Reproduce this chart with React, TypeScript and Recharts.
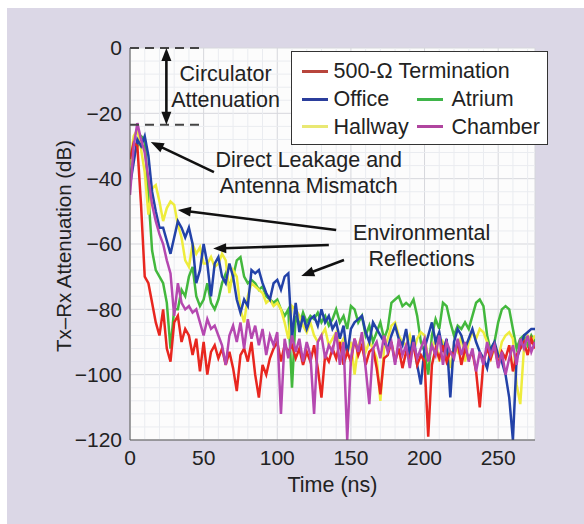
import React from 'react'
import {
  CartesianGrid,
  Legend,
  Line,
  LineChart,
  ReferenceDot,
  ReferenceLine,
  XAxis,
  YAxis,
} from 'recharts'

// Tx–Rx attenuation vs. time, five environments, sampled every 2.5 ns (0–275 ns).
const time = Array.from({ length: 111 }, (_, i) => i * 2.5)

const termination = [
  -34, -29, -30, -48, -70, -72, -78, -84, -88, -80,
  -92, -96, -84, -82, -90, -86, -88, -94, -89, -99,
  -90, -100, -93, -91, -95, -92, -97, -93, -98, -105,
  -94, -92, -96, -90, -100, -107, -97, -100, -95, -92,
  -90, -96, -91, -93, -91, -95, -92, -97, -93, -96,
  -91, -98, -107, -94, -96, -92, -95, -90, -97, -93,
  -96, -89, -94, -91, -97, -93, -92, -98, -106, -95,
  -94, -90, -96, -92, -98, -93, -95, -91, -97, -94,
  -96, -119, -97, -92, -95, -91, -96, -93, -94, -90,
  -97, -92, -95, -93, -99, -110, -96, -92, -95, -91,
  -97, -93, -95, -91, -99, -94, -92, -90, -94, -89,
  -92,
]

const office = [
  -42, -35, -28, -30, -27, -33, -44, -50, -55, -55,
  -59, -63, -58, -53, -55, -58, -55, -60, -72, -68,
  -60, -66, -76, -66, -64, -70, -72, -66, -70, -77,
  -81, -77, -79, -68, -69, -68, -72, -75, -77, -72,
  -71, -74, -70, -69, -89, -78, -87, -82, -86, -83,
  -82, -85, -80, -84, -82, -86, -84, -89, -85, -94,
  -86, -84, -83, -82, -87, -90, -84, -86, -88, -90,
  -92, -88, -85, -89, -91, -86, -94, -88, -97, -103,
  -92, -88, -84, -90, -87, -93, -89, -107, -90, -86,
  -88, -92, -89, -86, -90, -93, -95, -98, -92, -90,
  -94, -96, -100, -107, -120, -95, -92, -88, -87, -86,
  -86,
]

const atrium = [
  -40, -33, -30, -27, -28, -45, -62, -68, -70, -72,
  -78, -92, -80, -80, -74, -76, -70, -67, -76, -79,
  -77, -72, -78, -80, -77, -72, -69, -73, -70, -65,
  -64, -70, -72, -71, -72, -74, -73, -76, -77, -78,
  -77, -80, -82, -80, -104, -82, -85, -81, -84, -82,
  -83, -81, -84, -82, -85, -83, -80, -84, -82, -86,
  -79, -80, -84, -82, -88, -85, -90, -87, -84, -89,
  -86, -78, -77, -76, -79, -78, -79, -77, -82, -90,
  -93, -100, -88, -83, -86, -78, -79, -84, -88, -85,
  -86, -84, -86, -82, -78, -77, -79, -88, -93, -90,
  -84, -80, -79, -80, -86, -92, -89, -88, -91, -88,
  -90,
]

const hallway = [
  -36, -27, -25, -31, -38, -51, -43, -42, -47, -53,
  -49, -47, -48, -54, -58, -65, -67, -60, -63, -61,
  -66, -66, -64, -67, -66, -63, -65, -75, -68, -70,
  -80, -84, -76, -72, -73, -74, -75, -78, -77, -79,
  -78, -80, -84, -89, -79, -80, -82, -85, -87, -84,
  -88, -90, -88, -86, -91, -89, -87, -91, -89, -93,
  -90, -100, -91, -88, -93, -90, -92, -95, -108, -92,
  -89, -85, -84, -88, -90, -91, -88, -93, -89, -87,
  -88, -95, -92, -89, -96, -90, -92, -98, -91, -93,
  -88, -96, -90, -87, -89, -86, -87, -90, -95, -92,
  -95, -90, -88, -87, -89, -103, -109, -92, -88, -90,
  -88,
]

const chamber = [
  -45, -30, -23, -28, -32, -40, -48, -53, -57, -60,
  -65, -69, -82, -72, -78, -80, -79, -81, -80, -84,
  -88, -83, -86, -85, -88, -91, -97, -88, -85, -90,
  -84, -92, -83, -89, -85, -91, -86, -94, -88, -91,
  -87, -112, -89, -95, -88, -93, -89, -96, -90, -94,
  -112, -90, -88, -95, -91, -93, -87, -97, -90, -120,
  -95, -89, -93, -87, -98, -109, -92, -90, -95, -88,
  -93, -90, -97, -89, -94, -91, -98, -90, -95, -92,
  -89, -96, -91, -94, -88, -97, -90, -93, -95, -89,
  -94, -90, -96, -92, -99, -93, -97, -90, -94, -91,
  -98, -93, -100, -95, -91, -97, -89, -92, -88, -93,
  -90,
]

const xTicks = [0, 50, 100, 150, 200, 250]
const yTicks = [-120, -100, -80, -60, -40, -20, 0]
const xMinor = [10, 20, 30, 40, 60, 70, 80, 90, 110, 120, 130, 140, 160, 170, 180, 190, 210, 220, 230, 240, 260, 270]
const yMinor = [-116, -112, -108, -104, -96, -92, -88, -84, -76, -72, -68, -64, -56, -52, -48, -44, -36, -32, -28, -24, -16, -12, -8, -4]

// draw order: green, yellow, blue, red, magenta
const series = [
  { key: 'atrium', name: 'Atrium', color: '#43b83d', swatch: '#3fb54a' },
  { key: 'hallway', name: 'Hallway', color: '#eeec3c', swatch: '#e9e873' },
  { key: 'office', name: 'Office', color: '#2342a8', swatch: '#2b3e9c' },
  { key: 'termination', name: '500-\u03A9 Termination', color: '#e8261f', swatch: '#b8453c' },
  { key: 'chamber', name: 'Chamber', color: '#b548b0', swatch: '#b0459f' },
]

const data = time.map((t, i) => ({
  t,
  termination: termination[i],
  office: office[i],
  atrium: atrium[i],
  hallway: hallway[i],
  chamber: chamber[i],
}))

// annotations (data coordinates)
const dashedLevels = [0, -23.5]
const circulatorArrow = { t: 24.7, top: 0, bottom: -23.5 }
const arrows = [
  { from: { x: 57, y: -38 }, to: { x: 14.1, y: -28.8 } },
  { from: { x: 140, y: -55.7 }, to: { x: 32.5, y: -49.6 } },
  { from: { x: 135, y: -60.3 }, to: { x: 56.5, y: -61.4 } },
  { from: { x: 145.3, y: -64.9 }, to: { x: 116.3, y: -69.8 } },
]
const notes = [
  { text: 'Circulator', t: 64.9, db: -8 },
  { text: 'Attenuation', t: 64.9, db: -15.8 },
  { text: 'Direct Leakage and', t: 121.4, db: -34.4 },
  { text: 'Antenna Mismatch', t: 121.4, db: -42.1 },
  { text: 'Environmental', t: 198, db: -56.6 },
  { text: 'Reflections', t: 198, db: -64.6 },
]

const FONT = '"Liberation Sans", Arial, Helvetica, sans-serif'
const INK = '#222'
const NOTE_SIZE = 21.5

function head(x: number, y: number, fx: number, fy: number) {
  // arrowhead with tip at (x, y), pointing away from (fx, fy)
  const dx = x - fx
  const dy = y - fy
  const len = Math.hypot(dx, dy) || 1
  const ux = dx / len
  const uy = dy / len
  const L = 13
  const W = 5
  const bx = x - ux * L
  const by = y - uy * L
  return `${x},${y} ${bx - uy * W},${by + ux * W} ${bx + uy * W},${by - ux * W}`
}

const arrowShape = (both: boolean) => (p: any) => {
  const { x1, y1, x2, y2 } = p
  const len = Math.hypot(x2 - x1, y2 - y1) || 1
  const ux = (x2 - x1) / len
  const uy = (y2 - y1) / len
  const sx = both ? x1 + ux * 10 : x1
  const sy = both ? y1 + uy * 10 : y1
  return (
    <g>
      <line x1={sx} y1={sy} x2={x2 - ux * 10} y2={y2 - uy * 10} stroke="#111" strokeWidth={2.6} />
      <polygon points={head(x2, y2, x1, y1)} fill="#111" />
      {both && <polygon points={head(x1, y1, x2, y2)} fill="#111" />}
    </g>
  )
}

const noteShape = (text: string) => (p: any) => (
  <text
    x={p.cx}
    y={p.cy}
    textAnchor="middle"
    dominantBaseline="central"
    fontFamily={FONT}
    fontSize={NOTE_SIZE}
    fill={INK}
  >
    {text}
  </text>
)

const legendRows = [
  [{ col: 0, key: 'termination' }],
  [{ col: 0, key: 'office' }, { col: 1, key: 'atrium' }],
  [{ col: 0, key: 'hallway' }, { col: 1, key: 'chamber' }],
]

function LegendBox() {
  const rowY = [19, 47, 74.5]
  const swatchX = [10, 125]
  const textX = [42, 160]
  return (
    <div
      style={{
        position: 'relative',
        width: 257,
        height: 94,
        boxSizing: 'border-box',
        border: '1.5px solid #333',
        background: '#fff',
        fontFamily: FONT,
        fontSize: NOTE_SIZE,
        color: INK,
      }}
    >
      {legendRows.map((row, r) =>
        row.map(({ col, key }) => {
          const s = series.find((d) => d.key === key)!
          return (
            <React.Fragment key={key}>
              <div
                style={{
                  position: 'absolute',
                  left: swatchX[col],
                  top: rowY[r] - 1.5,
                  width: 26,
                  height: 3,
                  background: s.swatch,
                }}
              />
              <div
                style={{
                  position: 'absolute',
                  left: textX[col],
                  top: rowY[r] - 12,
                  lineHeight: '24px',
                  whiteSpace: 'nowrap',
                }}
              >
                {s.name}
              </div>
            </React.Fragment>
          )
        }),
      )}
    </div>
  )
}

const fmtY = (v: number) => (v < 0 ? '\u2212' + Math.abs(v) : String(v))

export default function App() {
  return (
    <div
      style={{
        position: 'fixed',
        left: 7,
        top: 8,
        width: 577,
        height: 516,
        background: '#dbd7e6',
      }}
    >
      <LineChart width={577} height={516} data={data} margin={{ top: 40, right: 49, bottom: 0, left: 0 }}>
        <CartesianGrid fill="#fcfcfc" stroke="#d6d7dc" strokeWidth={1} />
        {xMinor.map((x) => (
          <ReferenceLine key={'vx' + x} x={x} stroke="#eaecf0" strokeWidth={1} />
        ))}
        {yMinor.map((y) => (
          <ReferenceLine key={'hy' + y} y={y} stroke="#eaecf0" strokeWidth={1} />
        ))}
        <XAxis
          dataKey="t"
          type="number"
          domain={[0, 275]}
          ticks={xTicks}
          allowDataOverflow
          height={84}
          tickLine={false}
          tickSize={0}
          tickMargin={10}
          axisLine={{ stroke: '#555', strokeWidth: 1 }}
          tick={{ fill: INK, fontSize: 21, fontFamily: FONT }}
          label={{
            content: ({ viewBox }: any) => (
              <text
                x={viewBox.x + viewBox.width / 2}
                y={viewBox.y + 52}
                textAnchor="middle"
                fontFamily={FONT}
                fontSize={21.5}
                fill={INK}
              >
                Time (ns)
              </text>
            ),
          }}
        />
        <YAxis
          type="number"
          domain={[-120, 0]}
          ticks={yTicks}
          allowDataOverflow
          width={123}
          tickLine={false}
          tickSize={0}
          tickMargin={8}
          tickFormatter={fmtY}
          axisLine={{ stroke: '#555', strokeWidth: 1 }}
          tick={{ fill: INK, fontSize: 21, fontFamily: FONT }}
          label={{
            content: ({ viewBox }: any) => {
              const cx = viewBox.x + 56
              const cy = viewBox.y + viewBox.height / 2 + 2
              return (
                <text
                  x={cx}
                  y={cy}
                  transform={`rotate(-90, ${cx}, ${cy})`}
                  textAnchor="middle"
                  dominantBaseline="central"
                  fontFamily={FONT}
                  fontSize={20.5}
                  fill={INK}
                >
                  Tx–Rx Attenuation (dB)
                </text>
              )
            },
          }}
        />
        {series.map((s) => (
          <Line
            key={s.key}
            type="linear"
            dataKey={s.key}
            name={s.name}
            stroke={s.color}
            strokeWidth={2.5}
            dot={false}
            activeDot={false}
            isAnimationActive={false}
          />
        ))}
        {dashedLevels.map((y) => (
          <ReferenceLine
            key={'d' + y}
            segment={[
              { x: 0, y },
              { x: 50, y },
            ]}
            stroke="#444"
            strokeWidth={2}
            strokeDasharray="9 6"
          />
        ))}
        <ReferenceLine
          segment={[
            { x: circulatorArrow.t, y: circulatorArrow.top },
            { x: circulatorArrow.t, y: circulatorArrow.bottom },
          ]}
          shape={arrowShape(true)}
        />
        {arrows.map((a, i) => (
          <ReferenceLine key={'a' + i} segment={[a.from, a.to]} shape={arrowShape(false)} />
        ))}
        {notes.map((n) => (
          <ReferenceDot key={n.text} x={n.t} y={n.db} r={0} shape={noteShape(n.text)} />
        ))}
        <Legend
          layout="vertical"
          align="center"
          verticalAlign="middle"
          content={() => <LegendBox />}
          wrapperStyle={{ position: 'absolute', left: 283.5, top: 43, width: 257, height: 94 }}
        />
      </LineChart>
    </div>
  )
}
